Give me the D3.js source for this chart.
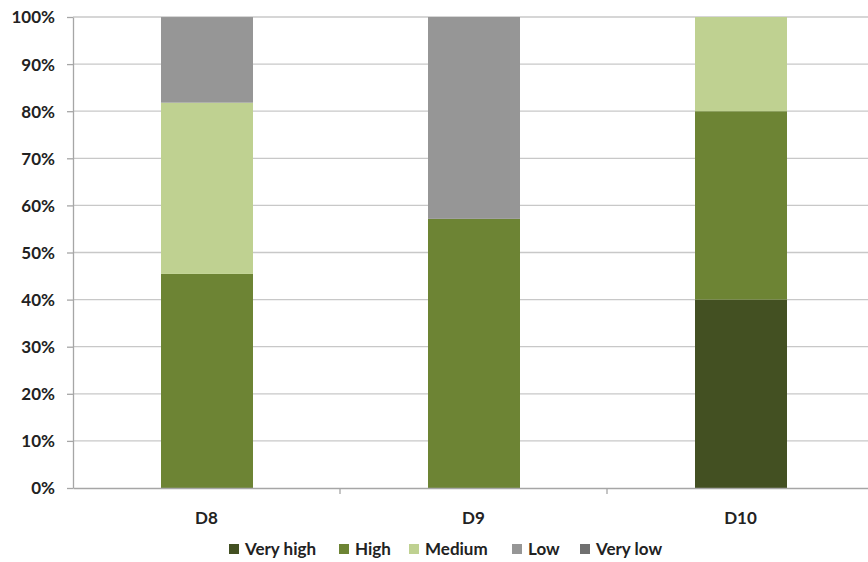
<!DOCTYPE html>
<html>
<head>
<meta charset="utf-8">
<script src="https://cdn.jsdelivr.net/npm/d3@7/dist/d3.min.js"></script>
<style>
	body { margin: 0; background: #fff; }
	text { font-family: Lato, "Open Sans", sans-serif; font-weight: bold; fill: #222; }
</style>
</head>
<body>
<svg id="chart" width="868" height="562"></svg>
<script>
const categories = ["D8", "D9", "D10"];
const seriesNames = ["Very high", "High", "Medium", "Low", "Very low"];
const veryHigh = [0, 0, 40];
const high = [45.45, 57.14, 40];
const medium = [36.36, 0, 20];
const low = [18.18, 42.86, 0];
const veryLow = [0, 0, 0];
const yTicks = [0, 10, 20, 30, 40, 50, 60, 70, 80, 90, 100];

const colors = ["#435022", "#6d8434", "#bfd191", "#969696", "#707070"];

// tabla para d3.stack
const table = categories.map((c, i) => ({
	cat: c,
	"Very high": veryHigh[i],
	"High": high[i],
	"Medium": medium[i],
	"Low": low[i],
	"Very low": veryLow[i]
}));

const margin = {top: 17, right: -6, bottom: 74, left: 73};
const width = 868 - margin.left - margin.right;
const height = 562 - margin.top - margin.bottom;
const fontSize = '17px';

const svg = d3.select('#chart');
const g = svg.append('g').attr('transform', `translate(${margin.left}, ${margin.top})`);

const x = d3.scaleBand().domain(categories).range([0, width]).paddingInner(0).paddingOuter(0);
const y = d3.scaleLinear().domain([0, 100]).range([height, 0]);

// grid
g.append('g')
	.selectAll('line')
	.data(yTicks.slice(1))
	.join('line')
	.attr('x1', 0).attr('x2', width)
	.attr('y1', d => y(d)).attr('y2', d => y(d))
	.attr('stroke', '#c8c8c8').attr('stroke-width', 1.3);

const stack = d3.stack().keys(seriesNames);
const layers = stack(table);
const barW = 92;

g.append('g')
	.selectAll('g')
	.data(layers)
	.join('g')
	.attr('fill', (d, i) => colors[i])
	.selectAll('rect')
	.data(d => d)
	.join('rect')
	.attr('x', d => x(d.data.cat) + x.bandwidth() / 2 - barW / 2 + 0.5)
	.attr('width', barW)
	.attr('y', d => y(d[1]))
	.attr('height', d => y(d[0]) - y(d[1]));

// eje Y
const yAxis = g.append('g')
	.call(d3.axisLeft(y).tickValues(yTicks).tickFormat(d => d + '%').tickSize(6).tickSizeOuter(0));
yAxis.select('.domain').attr('stroke', '#a6a6a6').attr('stroke-width', 1.3);
yAxis.selectAll('.tick line').attr('stroke', '#a6a6a6').attr('stroke-width', 1.3);
yAxis.selectAll('.tick text').attr('x', -18).attr('dy', '0.35em')
	.style('font-size', fontSize).style('font-family', 'Lato, sans-serif').style('font-weight', 'bold').attr('fill', '#222');

// eje X
const xAxis = g.append('g')
	.attr('transform', `translate(0, ${height})`)
	.call(d3.axisBottom(x).tickSize(0).tickSizeOuter(0));
xAxis.select('.domain').attr('stroke', '#a6a6a6').attr('stroke-width', 1.3);
xAxis.selectAll('.tick text').attr('y', 24)
	.style('font-size', fontSize).style('font-family', 'Lato, sans-serif').style('font-weight', 'bold').attr('fill', '#222');

// separadores de categorias
g.append('g')
	.selectAll('line')
	.data(categories.slice(1))
	.join('line')
	.attr('x1', d => x(d)).attr('x2', d => x(d))
	.attr('y1', height).attr('y2', height + 6)
	.attr('stroke', '#a6a6a6').attr('stroke-width', 1.3);

// leyenda
const legendX = [229, 339, 409, 512, 580];
const legend = svg.append('g').attr('transform', 'translate(0, 549)');
const item = legend.selectAll('g')
	.data(seriesNames)
	.join('g')
	.attr('transform', (d, i) => `translate(${legendX[i]}, 0)`);
item.append('rect')
	.attr('x', 0).attr('y', -5).attr('width', 10).attr('height', 10)
	.attr('fill', (d, i) => colors[i]);
item.append('text')
	.attr('x', 16).attr('dy', '0.35em')
	.style('font-size', fontSize)
	.text(d => d);
</script>
</body>
</html>
